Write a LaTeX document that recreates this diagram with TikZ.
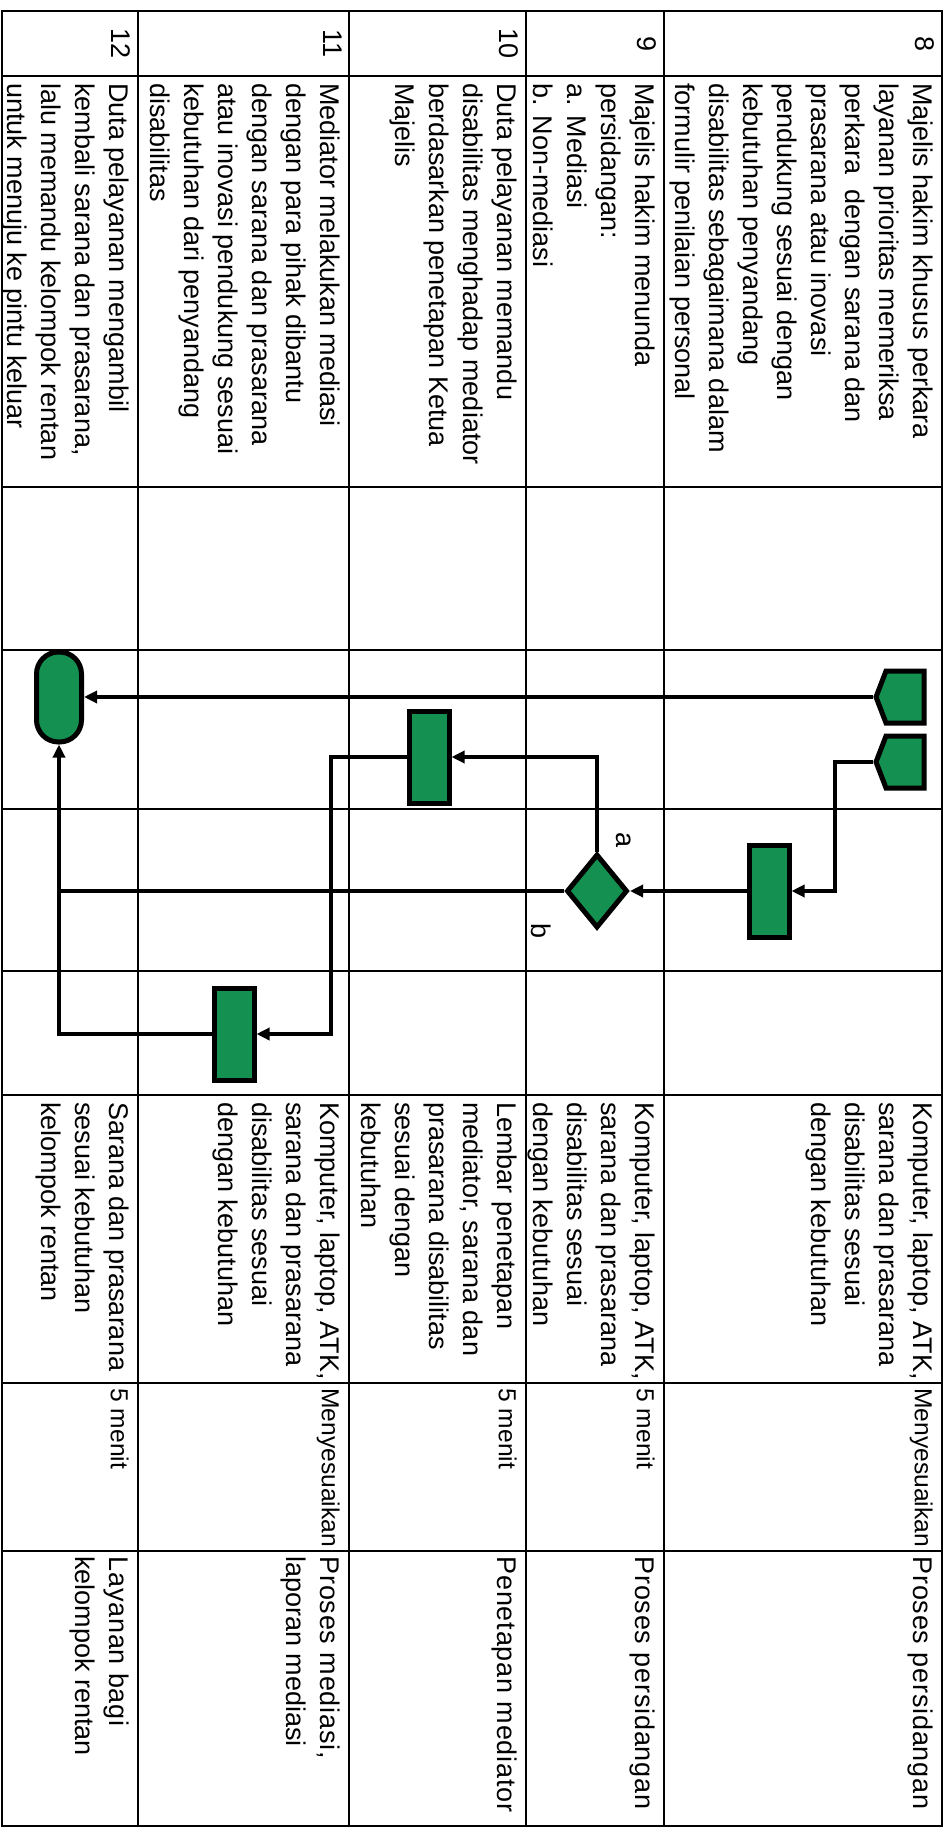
\documentclass[tikz,border=0pt]{standalone}
\usepackage{fontspec}
\setmainfont{Liberation Sans}
\newfontfamily\renggang[LetterSpace=3]{Liberation Sans}
\usetikzlibrary{arrows.meta,shapes.geometric,shapes.symbols}
\definecolor{hijau}{RGB}{20,145,80}
\newcommand*\selTeks[4]{%
    \node[sop/teks] (#1) at (#2,#3) {#4};
}
\tikzset{sop/.cd,
         garis/.style={line width=1.4pt},
         teks/.style={rotate=-90,anchor=north west,align=left,inner sep=0pt,
                      font=\fontsize{13.5}{17}\selectfont},
         waktu/.style={sop/teks,font=\fontsize{12.3}{17}\selectfont},
         nomor/.style={rotate=-90,anchor=north,inner sep=0pt,
                       font=\fontsize{13.5}{17}\selectfont},
         simbol/.style={draw=black,fill=hijau,line width=2.5pt,inner sep=0pt},
         proses/.style={sop/simbol,rectangle,minimum width=20pt,minimum height=46pt},
         keputusan/.style={sop/simbol,diamond,minimum width=30.5pt,minimum height=37pt},
         terminal/.style={sop/simbol,rectangle,rounded corners=11pt,
                          minimum width=22.5pt,minimum height=45pt},
         konektor/.style={sop/simbol,signal,signal to=west,signal pointer angle=138,
                          minimum width=24pt,minimum height=26pt},
         alur/.style={line width=2pt,-{Triangle[length=6.5pt,width=6pt]}},
         sambung/.style={line width=2pt}}

\begin{document}
\begin{tikzpicture}[x=0.5pt,y=-0.5pt]
\useasboundingbox (0,0) rectangle (951,1839);
% tabel
\draw[sop/garis] (2,11) rectangle (942,1826);
\foreach \y in {76,487,650,809,971,1095,1383,1551}
    \draw[sop/garis] (2,\y) -- (942,\y);
\foreach \x in {138,349,526,664}
    \draw[sop/garis] (\x,11) -- (\x,1826);
% nomor
\node[sop/nomor] (n8) at (935,44) {8};
\node[sop/nomor] (n9) at (657,44) {9};
\node[sop/nomor] (n10) at (519,44) {10};
\node[sop/nomor] (n11) at (342,44) {11};
\node[sop/nomor] (n12) at (131,44) {12};
% kegiatan
\selTeks{d8}{933}{83}{Majelis hakim khusus perkara\\layanan prioritas memeriksa\\perkara\ \ dengan sarana dan\\prasarana atau inovasi\\pendukung sesuai dengan\\kebutuhan penyandang\\disabilitas sebagaimana dalam\\formulir penilaian personal}
\selTeks{d9}{655}{83}{Majelis hakim menunda\\persidangan:\\a. Mediasi\\b. Non-mediasi}
\selTeks{d10}{517}{83}{Duta pelayanan memandu\\disabilitas menghadap mediator\\berdasarkan penetapan Ketua\\Majelis}
\selTeks{d11}{340}{83}{Mediator melakukan mediasi\\dengan para pihak dibantu\\dengan sarana dan prasarana\\atau inovasi pendukung sesuai\\kebutuhan dari penyandang\\disabilitas}
\selTeks{d12}{129}{83}{Duta pelayanan mengambil\\kembali sarana dan prasarana,\\lalu memandu kelompok rentan\\untuk menuju ke pintu keluar}
% kelengkapan
\selTeks{k8}{933}{1102}{Komputer, laptop, ATK,\\sarana dan prasarana\\disabilitas sesuai\\dengan kebutuhan}
\selTeks{k9}{655}{1102}{Komputer, laptop, ATK,\\sarana dan prasarana\\disabilitas sesuai\\dengan kebutuhan}
\selTeks{k10}{517}{1102}{Lembar penetapan\\mediator, sarana dan\\prasarana disabilitas\\sesuai dengan\\kebutuhan}
\selTeks{k11}{340}{1102}{Komputer, laptop, ATK,\\sarana dan prasarana\\disabilitas sesuai\\dengan kebutuhan}
\selTeks{k12}{129}{1102}{Sarana dan prasarana\\sesuai kebutuhan\\kelompok rentan}
% waktu
\node[sop/waktu] (w8) at (933,1388) {Menyesuaikan};
\node[sop/waktu] (w9) at (655,1388) {5 menit};
\node[sop/waktu] (w10) at (517,1388) {5 menit};
\node[sop/waktu] (w11) at (340,1388) {Menyesuaikan};
\node[sop/waktu] (w12) at (129,1388) {5 menit};
% output
\selTeks{o8}{933}{1556}{\renggang Proses persidangan}
\selTeks{o9}{655}{1556}{\renggang Proses persidangan}
\selTeks{o10}{517}{1556}{\renggang Penetapan mediator}
\selTeks{o11}{340}{1556}{\renggang Proses mediasi,\\laporan mediasi}
\selTeks{o12}{129}{1556}{\renggang Layanan bagi\\kelompok rentan}
% bagan alir
\node[sop/konektor] (p1) at (905,697) {};
\node[sop/konektor] (p2) at (905,762) {};
\node[sop/terminal] (akhir) at (59,697) {};
\node[sop/proses] (r9) at (769,891) {};
\node[sop/keputusan] (dia) at (597,891) {};
\node[sop/proses] (r10) at (429,757) {};
\node[sop/proses] (r11) at (234,1034) {};
\coordinate (tekuk9) at (835,762);
\coordinate (tekuk11) at (331,757);
\draw[sop/alur] (p1.west) -- (akhir.east);
\draw[sop/alur] (p2.west) -- (tekuk9) |- (r9.east);
\draw[sop/alur] (r9.west) -- (dia.east);
\draw[sop/alur] (dia.north) |- (r10.east);
\draw[sop/alur] (r10.west) -- (tekuk11) |- (r11.east);
\draw[sop/alur] (r11.west) -| (akhir.south);
\draw[sop/sambung] (dia.west) -- (dia.west -| akhir.south);
\node[sop/nomor,anchor=center] (la) at (624,840) {a};
\node[sop/nomor,anchor=center] (lb) at (541,931) {b};
\end{tikzpicture}
\end{document}
